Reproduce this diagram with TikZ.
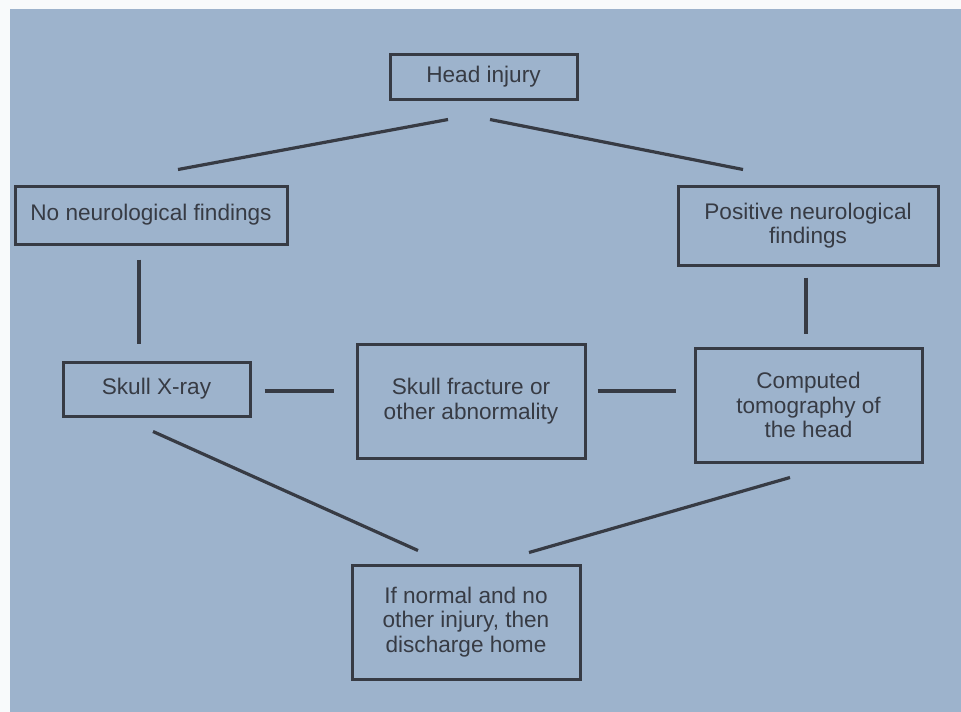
\documentclass[tikz,border=0pt]{standalone}
\usepackage{fontspec}
\setmainfont{Liberation Sans}
\usepackage{tikz}
\usetikzlibrary{calc}
\definecolor{panel}{RGB}{157,179,204}
\definecolor{ink}{RGB}{55,59,68}

\begin{document}
\begin{tikzpicture}[x=1pt, y=-1pt, box/.style = {draw=ink, line width=3pt, text=ink, align=center, inner sep=0pt, font=\fontsize{22.6}{24.5}\selectfont}, link/.style = {draw=ink, line width=3.2pt}]
	\useasboundingbox (0,0) rectangle (961,712);
	\fill[white!93!panel] (0,0) rectangle (961,712);
	\fill[panel] (10,9) rectangle (961,712);
	\node[box, minimum width=187pt, minimum height=45pt] (head) at (483.5,76.5) {Head injury};
	\node[box, minimum width=272pt, minimum height=58pt] (noneuro) at (151,215) {No neurological findings};
	\node[box, minimum width=260pt, minimum height=79pt] (posneuro) at (808,225.5) {Positive neurological\\findings};
	\node[box, minimum width=187pt, minimum height=54pt] (xray) at (156.5,389) {Skull X-ray};
	\node[box, minimum width=228pt, minimum height=114pt] (fracture) at (471,401) {Skull fracture or\\other abnormality};
	\node[box, minimum width=227pt, minimum height=114pt] (ct) at (808.5,405) {Computed\\tomography of\\the head};
	\node[box, minimum width=228pt, minimum height=114pt] (home) at (466,622) {If normal and no\\other injury, then\\discharge home};
	\draw[link] ($(head.south)+(-35.5,19)$) -- ($(noneuro.north)+(27,-15)$);
	\draw[link] ($(head.south)+(6.5,19)$) -- ($(posneuro.north)+(-65,-15)$);
	\draw[link] ($(noneuro.south)+(-12,14)$) -- ($(xray.north)+(-17.5,-17)$);
	\draw[link] ($(posneuro.south)+(-2,11)$) -- ($(ct.north)+(-2.5,-13)$);
	\draw[link] ($(xray.east)+(13,2)$) -- ($(fracture.west)+(-22,-10)$);
	\draw[link] ($(fracture.east)+(11,-10)$) -- ($(ct.west)+(-18,-14)$);
	\draw[link] ($(xray.south)+(-3.5,14)$) -- ($(home.north)+(-48,-13)$);
	\draw[link] ($(ct.south)+(-18.5,14)$) -- ($(home.north)+(63,-11)$);
\end{tikzpicture}
\end{document}
